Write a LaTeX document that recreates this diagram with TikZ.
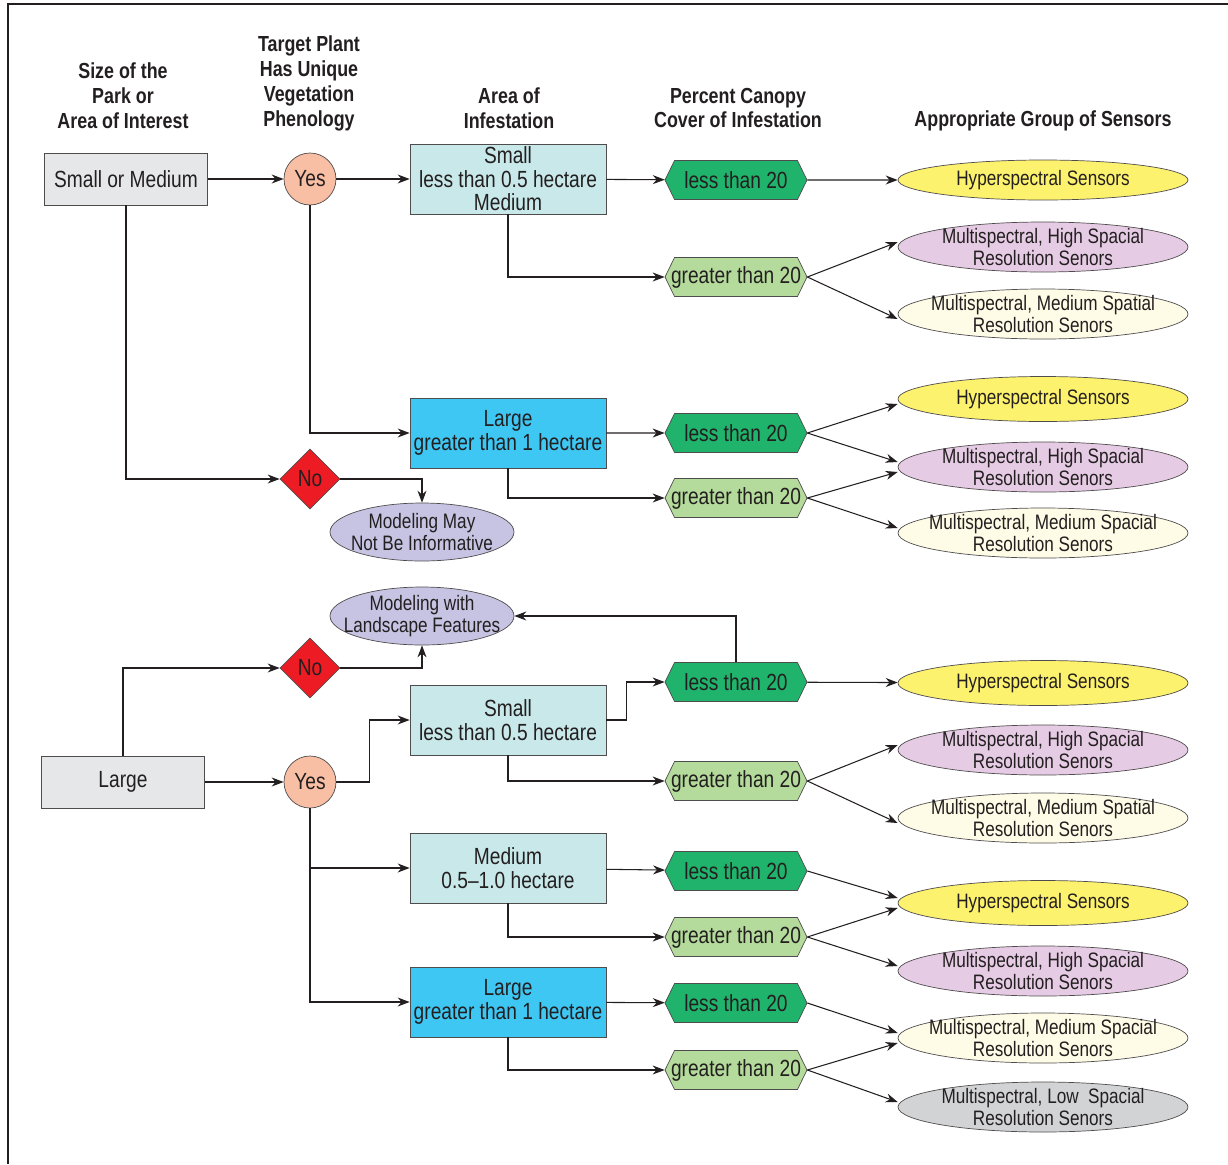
\documentclass[tikz,border=0pt]{standalone}
\usepackage{fontspec}
\setmainfont{Liberation Sans}[FakeStretch=0.82]
\usepackage{xcolor}
\usetikzlibrary{shapes.geometric,shapes.symbols,arrows.meta,calc}

\definecolor{ink}{HTML}{231F20}
\definecolor{boxgray}{HTML}{E6E7E8}
\definecolor{salmon}{HTML}{F9BFA5}
\definecolor{nored}{HTML}{ED1C24}
\definecolor{cyanlt}{HTML}{C8E8EA}
\definecolor{cyandk}{HTML}{3FC7F4}
\definecolor{grdk}{HTML}{1FB36B}
\definecolor{grlt}{HTML}{B4DB9B}
\definecolor{yel}{HTML}{FDF26D}
\definecolor{pnk}{HTML}{E6CBE4}
\definecolor{crm}{HTML}{FEFCE6}
\definecolor{gryell}{HTML}{D2D3D5}
\definecolor{lav}{HTML}{C6C4E2}

\begin{document}
\begin{tikzpicture}[
  x=0.02cm, y=-0.02cm,
  every node/.style={font=\fontsize{13.3}{13.4}\selectfont, text=ink},
  hdr/.style ={font=\fontsize{12.4}{14.2}\selectfont\bfseries, align=center},
  qbox/.style={rectangle, draw=ink!80, fill=boxgray, minimum width=3.26cm, minimum height=1.04cm},
  abox/.style={rectangle, draw=ink!80, fill=#1, minimum width=3.92cm, minimum height=1.4cm, align=center, inner sep=1pt},
  yesc/.style={circle, draw=ink!80, fill=salmon, minimum size=1.04cm, inner sep=0pt},
  nod/.style ={diamond, draw=ink!80, fill=nored, minimum width=1.2cm, minimum height=1.2cm, inner sep=0pt},
  pct/.style ={signal, signal to=east and west, signal pointer angle=128, draw=ink!80, fill=#1,
               minimum width=2.84cm, minimum height=0.78cm, inner xsep=-2.5pt, inner ysep=1pt},
  sens/.style={ellipse, draw=ink!80, fill=#1, minimum width=5.8cm, minimum height=1cm, inner sep=0pt},
  modl/.style={ellipse, draw=ink!80, fill=lav, minimum width=3.68cm, minimum height=1.16cm, inner sep=0pt},
  lbl/.style ={font=\fontsize{11.9}{12.8}\selectfont, align=center, inner sep=0pt},
  arr/.style ={-{Stealth[length=2.4mm,width=1.8mm]}, draw=ink, line width=0.6pt},
  ln/.style  ={draw=ink, line width=0.6pt},
]
\useasboundingbox (0,0) rectangle (1228,1164);

%% frame
\draw[ln] (8,1164) -- (8,4) -- (1228,4);

%% ─── Column headers ─────────────────────────────────────────────────────────
\node[hdr] (hSize)  at (123,96)   {Size of the\\Park or\\Area of Interest};
\node[hdr] (hPlant) at (309,83)   {Target Plant\\Has Unique\\Vegetation\\Phenology};
\node[hdr] (hArea)  at (509,108)  {Area of\\Infestation};
\node[hdr] (hCover) at (738,108)  {Percent Canopy\\Cover of Infestation};
\node[hdr] (hSens)  at (1043,121) {Appropriate Group of Sensors};

%% ─── Small or medium park ───────────────────────────────────────────────────
\node[qbox] (SM) at (126,179) {Small or Medium};
\node[yesc] (Y1) at (310,179) {Yes};
\node[nod]  (N1) at (310,479) {No};
\node[modl, label={[lbl]center:{Modeling May\\Not Be Informative}}] (M1) at (422,532) {};

\node[abox=cyanlt] (A1) at (508,179) {Small\\less than 0.5 hectare\\Medium};
\node[abox=cyandk] (A2) at (508,433) {Large\\greater than 1 hectare};

\node[pct=grdk] (L1) at (736,180) {less than 20};
\node[pct=grlt] (G1) at (736,277) {greater than 20};
\node[pct=grdk] (L2) at (736,433) {less than 20};
\node[pct=grlt] (G2) at (736,498) {greater than 20};

\node[sens=yel, minimum height=0.8cm, label={[lbl]center:Hyperspectral Sensors}] (H1) at (1043,180) {};
\node[sens=pnk, label={[lbl]center:{Multispectral, High Spacial\\Resolution Senors}}]   (MH1) at (1043,247) {};
\node[sens=crm, label={[lbl]center:{Multispectral, Medium Spatial\\Resolution Senors}}] (MM1) at (1043,314) {};
\node[sens=yel, minimum height=0.9cm, label={[lbl]center:Hyperspectral Sensors}] (H2) at (1043,399) {};
\node[sens=pnk, label={[lbl]center:{Multispectral, High Spacial\\Resolution Senors}}]   (MH2) at (1043,467) {};
\node[sens=crm, label={[lbl]center:{Multispectral, Medium Spacial\\Resolution Senors}}] (MM2) at (1043,533) {};

\draw[arr] (SM) -- (Y1);
\draw[arr] (Y1) -- (A1);
\draw[arr] (A1) -- (L1);
\draw[arr] (L1) -- (H1);
\draw[arr] (A1.south) |- (G1.west);
\draw[arr] (G1.east) -- ([yshift=1mm]MH1.west);
\draw[arr] (G1.east) -- ([yshift=-1mm]MM1.west);
\draw[arr] (Y1.south) |- (A2.west);
\draw[arr] (A2) -- (L2);
\draw[arr] (A2.south) |- (G2.west);
\draw[arr] (L2.east) -- ([yshift=-1mm]H2.west);
\draw[arr] (L2.east) -- ([yshift=1mm]MH2.west);
\draw[arr] (G2.east) -- ([yshift=-1mm]MH2.west);
\draw[arr] (G2.east) -- ([yshift=1mm]MM2.west);
\draw[arr] (SM.south) |- (N1.west);
\draw[arr] (N1.east) -| (M1.north);

%% ─── Large park ─────────────────────────────────────────────────────────────
\node[qbox] (LG) at (123,782) {Large};
\node[yesc] (Y2) at (310,782) {Yes};
\node[nod]  (N2) at (310,668) {No};
\node[modl, label={[lbl]center:{Modeling with\\Landscape Features}}] (M2) at (422,616) {};

\node[abox=cyanlt] (A3) at (508,720)  {Small\\less than 0.5 hectare};
\node[abox=cyanlt] (A4) at (508,868)  {Medium\\0.5--1.0 hectare};
\node[abox=cyandk] (A5) at (508,1002) {Large\\greater than 1 hectare};

\node[pct=grdk] (L3) at (736,682)  {less than 20};
\node[pct=grlt] (G3) at (736,781)  {greater than 20};
\node[pct=grdk] (L4) at (736,871)  {less than 20};
\node[pct=grlt] (G4) at (736,937)  {greater than 20};
\node[pct=grdk] (L5) at (736,1003) {less than 20};
\node[pct=grlt] (G5) at (736,1070) {greater than 20};

\node[sens=yel, minimum height=0.9cm, label={[lbl]center:Hyperspectral Sensors}] (H3) at (1043,683) {};
\node[sens=pnk, label={[lbl]center:{Multispectral, High Spacial\\Resolution Senors}}]   (MH3) at (1043,750) {};
\node[sens=crm, label={[lbl]center:{Multispectral, Medium Spatial\\Resolution Senors}}] (MM3) at (1043,818) {};
\node[sens=yel, minimum height=0.9cm, label={[lbl]center:Hyperspectral Sensors}] (H4) at (1043,903) {};
\node[sens=pnk, label={[lbl]center:{Multispectral, High Spacial\\Resolution Senors}}]   (MH4) at (1043,971) {};
\node[sens=crm, label={[lbl]center:{Multispectral, Medium Spacial\\Resolution Senors}}] (MM5) at (1043,1038) {};
\node[sens=gryell, label={[lbl]center:{Multispectral, Low\ \ Spacial\\Resolution Senors}}] (ML5) at (1043,1107) {};

\draw[arr] (LG) -- (Y2);
\draw[arr] (LG.north) |- (N2.west);
\draw[arr] (N2.east) -| (M2.south);
\draw[arr] (L3.north) |- (M2.east);
\draw[arr] (Y2.east) -| ($(Y2.east)!0.45!(A3.west)$) |- (A3.west);
\draw[arr] (A3.east) -| ($(A3.east)!0.35!(L3.west)$) |- (L3.west);
\draw[arr] (L3) -- (H3);
\draw[arr] (A3.south) |- (G3.west);
\draw[arr] (G3.east) -- ([yshift=1mm]MH3.west);
\draw[arr] (G3.east) -- ([yshift=-1mm]MM3.west);

\draw[arr] (Y2.south) |- (A4.west);
\draw[arr] (Y2.south) |- (A5.west);
\draw[arr] (A4) -- (L4);
\draw[arr] (A4.south) |- (G4.west);
\draw[arr] (L4.east) -- ([yshift=1mm]H4.west);
\draw[arr] (G4.east) -- ([yshift=-1mm]H4.west);
\draw[arr] (G4.east) -- ([yshift=1mm]MH4.west);
\draw[arr] (A5) -- (L5);
\draw[arr] (A5.south) |- (G5.west);
\draw[arr] (L5.east) -- ([yshift=1mm]MM5.west);
\draw[arr] (G5.east) -- ([yshift=-1mm]MM5.west);
\draw[arr] (G5.east) -- ([yshift=1mm]ML5.west);

\end{tikzpicture}
\end{document}
